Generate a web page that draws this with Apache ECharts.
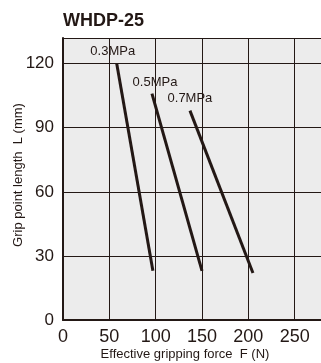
<!DOCTYPE html>
<html>
<head>
<meta charset="utf-8">
<script src="https://cdn.jsdelivr.net/npm/echarts@6/dist/echarts.min.js"></script>
<style>
  html, body { margin: 0; padding: 0; background: #fff; }
  #chart { width: 321px; height: 363px; }
</style>
</head>
<body>
<div id="chart"></div>
<script>
// gripping force F (N) vs grip point length L (mm), one segment per pressure
const pressures = ['0.3MPa', '0.5MPa', '0.7MPa'];
const forceTop = [58, 96, 137];
const lengthTop = [120, 106, 98];
const forceBottom = [97, 150, 205];
const lengthBottom = [23, 23, 22];
const xTicks = [0, 50, 100, 150, 200, 250, 300];
const yTicks = [0, 30, 60, 90, 120];

const labelOffsets = [[-4, 0], [3, 1], [0, 0]];
const ink = '#231815';
const font = "'Liberation Sans', Arial, Helvetica, sans-serif";

const chart = echarts.init(document.getElementById('chart'));

const series = pressures.map((name, i) => ({
    name,
    type: 'line',
    showSymbol: true,
    symbol: 'circle',
    symbolSize: 1,
    itemStyle: { color: 'rgba(0,0,0,0)' },
    lineStyle: { color: ink, width: 3, cap: 'butt' },
    data: [
        {
            value: [forceTop[i], lengthTop[i]],
            label: {
                show: true,
                position: 'top',
                distance: 5,
                offset: labelOffsets[i],
                formatter: name,
                color: ink,
                fontSize: 13,
                fontFamily: font,
            },
        },
        [forceBottom[i], lengthBottom[i]],
    ],
}));

const option = {
    animation: false,
    title: [
        {
            text: 'WHDP-25',
            left: 63,
            top: 12,
            padding: 0,
            textStyle: { fontSize: 18, fontWeight: 'bold', color: ink, fontFamily: font },
        },
        {
            text: 'Effective gripping force  F (N)',
            left: 185,
            top: 348,
            padding: 0,
            textAlign: 'center',
            textStyle: { fontSize: 13, fontWeight: 'normal', color: ink, fontFamily: font },
        },
    ],
    grid: {
        left: 63,
        right: -20,
        top: 38,
        bottom: 43,
        outerBoundsMode: 'none',
        containLabel: false,
        show: true,
        backgroundColor: '#ececec',
        borderWidth: 0,
    },
    xAxis: {
        type: 'value',
        min: xTicks[0],
        max: xTicks[xTicks.length - 1],
        interval: 50,
        axisLine: { show: true, onZero: false, lineStyle: { color: ink, width: 2 } },
        axisTick: { show: false },
        splitLine: { show: true, lineStyle: { color: ink, width: 1 } },
        axisLabel: { color: ink, fontSize: 18, fontFamily: font, margin: 8 },
    },
    yAxis: {
        type: 'value',
        min: yTicks[0],
        max: 132,
        interval: 30,
        name: 'Grip point length  L (mm)',
        nameLocation: 'middle',
        nameGap: 38,
        nameMoveOverlap: false,
        nameTextStyle: { color: ink, fontSize: 13, fontFamily: font, padding: [0, 0, 0, 8] },
        axisLine: { show: true, onZero: false, lineStyle: { color: ink, width: 2 } },
        axisTick: { show: false },
        splitLine: { show: true, lineStyle: { color: ink, width: 1 } },
        axisLabel: {
            color: ink,
            fontSize: 17,
            fontFamily: font,
            margin: 9,
            formatter: (v) => (yTicks.includes(v) ? String(v) : ''),
        },
    },
    series,
};

chart.setOption(option);
</script>
</body>
</html>
